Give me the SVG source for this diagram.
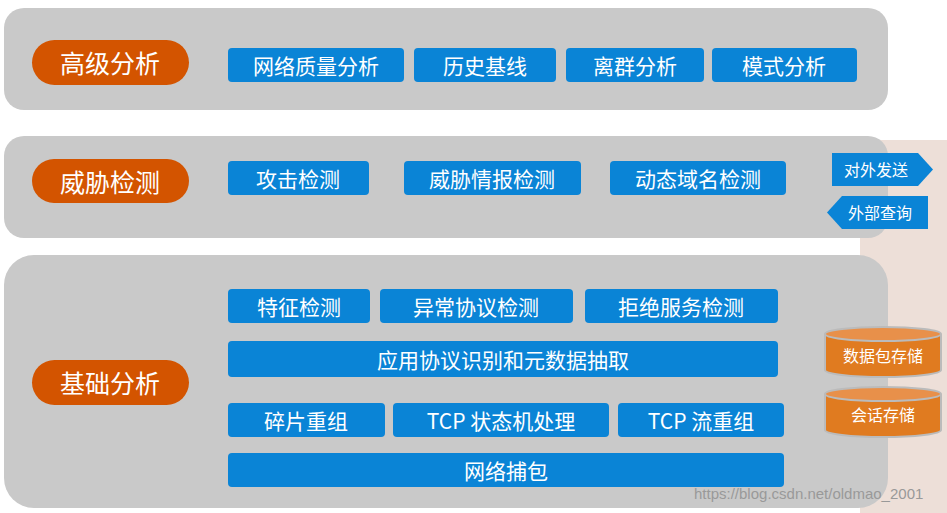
<svg xmlns="http://www.w3.org/2000/svg" width="947" height="513" viewBox="0 0 947 513">
<style>
.panel{fill:#c9c9c9}
.pill{fill:#d35400}
.box{fill:#0a84d6}
.t{font-family:"Noto Sans CJK SC","Liberation Sans",sans-serif;fill:#fff;text-anchor:middle;dominant-baseline:central}
.big{font-size:25px}
.mid{font-size:21px}
.sm{font-size:16px}
.cyl{fill:#e07b20;stroke:#bbb;stroke-width:2}
.cyltop{fill:#e8904a;stroke:#bbb;stroke-width:2}
</style>
<rect width="947" height="513" fill="#fff"/>
<rect x="860" y="140" width="87" height="373" fill="#eddfd8"/>
<g id="panels">
<rect class="panel" x="4" y="8" width="884" height="102" rx="20"/>
<rect class="panel" x="4" y="136" width="884" height="102" rx="20"/>
<rect class="panel" x="4" y="255" width="884" height="253" rx="30"/>
</g>
<g id="pills">
<g id="p1"><rect class="pill" x="32" y="40" width="157" height="45" rx="22.5"/><text class="t big" x="110" y="62">高级分析</text></g>
<g id="p2"><rect class="pill" x="32" y="159" width="157" height="44" rx="22"/><text class="t big" x="110" y="181">威胁检测</text></g>
<g id="p3"><rect class="pill" x="32" y="360" width="157" height="45" rx="22.5"/><text class="t big" x="110" y="382">基础分析</text></g>
</g>
<g id="boxes">
<g id="b1"><rect class="box" x="228" y="48" width="176" height="34" rx="4"/><text class="t mid" x="316" y="65">网络质量分析</text></g>
<g id="b2"><rect class="box" x="414" y="48" width="142" height="34" rx="4"/><text class="t mid" x="485" y="65">历史基线</text></g>
<g id="b3"><rect class="box" x="566" y="48" width="138" height="34" rx="4"/><text class="t mid" x="635" y="65">离群分析</text></g>
<g id="b4"><rect class="box" x="712" y="48" width="145" height="34" rx="4"/><text class="t mid" x="784" y="65">模式分析</text></g>
<g id="b5"><rect class="box" x="228" y="161" width="141" height="34" rx="4"/><text class="t mid" x="298" y="178">攻击检测</text></g>
<g id="b6"><rect class="box" x="404" y="161" width="177" height="34" rx="4"/><text class="t mid" x="492" y="178">威胁情报检测</text></g>
<g id="b7"><rect class="box" x="610" y="161" width="176" height="34" rx="4"/><text class="t mid" x="698" y="178">动态域名检测</text></g>
<g id="b8"><rect class="box" x="228" y="289" width="142" height="34" rx="4"/><text class="t mid" x="299" y="306">特征检测</text></g>
<g id="b9"><rect class="box" x="380" y="289" width="193" height="34" rx="4"/><text class="t mid" x="476" y="306">异常协议检测</text></g>
<g id="b10"><rect class="box" x="585" y="289" width="193" height="34" rx="4"/><text class="t mid" x="681" y="306">拒绝服务检测</text></g>
<g id="b11"><rect class="box" x="228" y="341" width="550" height="36" rx="4"/><text class="t mid" x="503" y="359">应用协议识别和元数据抽取</text></g>
<g id="b12"><rect class="box" x="228" y="403" width="157" height="34" rx="4"/><text class="t mid" x="306" y="420">碎片重组</text></g>
<g id="b13"><rect class="box" x="393" y="403" width="216" height="34" rx="4"/><text class="t mid" x="501" y="420">TCP 状态机处理</text></g>
<g id="b14"><rect class="box" x="618" y="403" width="166" height="34" rx="4"/><text class="t mid" x="701" y="420">TCP 流重组</text></g>
<g id="b15"><rect class="box" x="228" y="453" width="556" height="34" rx="4"/><text class="t mid" x="506" y="470">网络捕包</text></g>
</g>
<g id="arrows">
<g id="a1"><polygon class="box" points="832,153 918,153 933,169.5 918,186 832,186"/><text class="t sm" x="876" y="169">对外发送</text></g>
<g id="a2"><polygon class="box" points="842,196 928,196 928,229 842,229 827,212.5"/><text class="t sm" x="880" y="212">外部查询</text></g>
</g>
<g id="stores">
<g id="s1"><path class="cyl" d="M825,334 v36 a58,7 0 0 0 116,0 v-36"/><ellipse class="cyltop" cx="883" cy="334" rx="58" ry="7"/><text class="t sm" x="883" y="355">数据包存储</text></g>
<g id="s2"><path class="cyl" d="M825,394 v36 a58,7 0 0 0 116,0 v-36"/><ellipse class="cyltop" cx="883" cy="394" rx="58" ry="7"/><text class="t sm" x="883" y="414">会话存储</text></g>
</g>
<text x="694" y="499" font-family="Liberation Sans,sans-serif" font-size="15" fill="#999">https://blog.csdn.net/oldmao_2001</text>
</svg>
